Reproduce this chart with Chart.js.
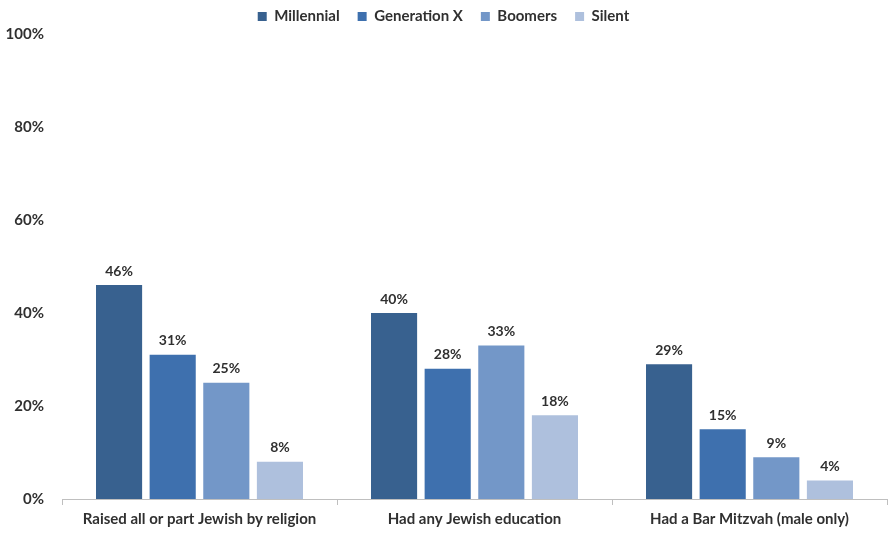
<!DOCTYPE html>
<html>
<head>
<meta charset="utf-8">
<script src="https://cdn.jsdelivr.net/npm/chart.js@4/dist/chart.umd.min.js"></script>
<style>
  html, body { margin: 0; padding: 0; background: #fff; }
  #wrap { width: 889px; height: 533px; }
</style>
</head>
<body>
<div id="wrap"><canvas id="chart"></canvas></div>
<script>
// categories and series
const categories = ['Raised all or part Jewish by religion', 'Had any Jewish education', 'Had a Bar Mitzvah (male only)']
const millennial = [46, 40, 29]
const genX = [31, 28, 15]
const boomers = [25, 33, 9]
const silent = [8, 18, 4]
const yTicks = [0, 20, 40, 60, 80, 100]

const SERIES = [
  { label: 'Millennial', data: millennial, color: '#38618F' },
  { label: 'Generation X', data: genX, color: '#3E70AE' },
  { label: 'Boomers', data: boomers, color: '#7397C8' },
  { label: 'Silent', data: silent, color: '#AEC0DD' },
]

const FONT = 'Lato, "Open Sans", sans-serif'

// simple value labels above each bar
const barLabels = {
  id: 'barLabels',
  afterDatasetsDraw(chart) {
    const { ctx } = chart
    ctx.save()
    ctx.font = 'bold 14px ' + FONT
    ctx.fillStyle = '#303030'
    ctx.textAlign = 'center'
    ctx.textBaseline = 'bottom'
    chart.data.datasets.forEach((ds, i) => {
      chart.getDatasetMeta(i).data.forEach((bar, j) => {
        ctx.fillText(ds.data[j] + '%', bar.x, bar.y - 7)
      })
    })
    ctx.restore()
  },
}

new Chart(document.getElementById('chart'), {
  type: 'bar',
  data: {
    labels: categories,
    datasets: SERIES.map(s => ({
      label: s.label,
      data: s.data,
      backgroundColor: s.color,
      borderWidth: 0,
      categoryPercentage: 0.78,
      barPercentage: 0.86,
    })),
  },
  plugins: [barLabels],
  options: {
    responsive: true,
    maintainAspectRatio: false,
    animation: false,
    // pull the legend up so it sits near the top edge like the original
    layout: { padding: { top: -9, right: 2, left: 0, bottom: 0 } },
    plugins: {
      legend: {
        position: 'top',
        labels: {
          color: '#303030',
          font: { family: FONT, size: 15, weight: 'bold' },
          boxWidth: 9, boxHeight: 9, padding: 18,
        },
      },
      tooltip: { enabled: false },
    },
    scales: {
      x: {
        border: { display: true, color: '#BFBFBF' },
        grid: { offset: true, drawOnChartArea: false, drawTicks: true, tickLength: 6, color: '#BFBFBF' },
        ticks: { color: '#303030', font: { family: FONT, size: 15, weight: 'bold' }, padding: 5 },
      },
      y: {
        min: 0, max: 100,
        afterFit: s => { s.width = 62 },
        afterBuildTicks: s => { s.ticks = yTicks.map(v => ({ value: v })) },
        border: { display: false },
        grid: { display: false },
        ticks: {
          color: '#303030',
          font: { family: FONT, size: 15, weight: 'bold' },
          padding: 10,
          callback: v => v + '%',
        },
      },
    },
  },
})
</script>
</body>
</html>
